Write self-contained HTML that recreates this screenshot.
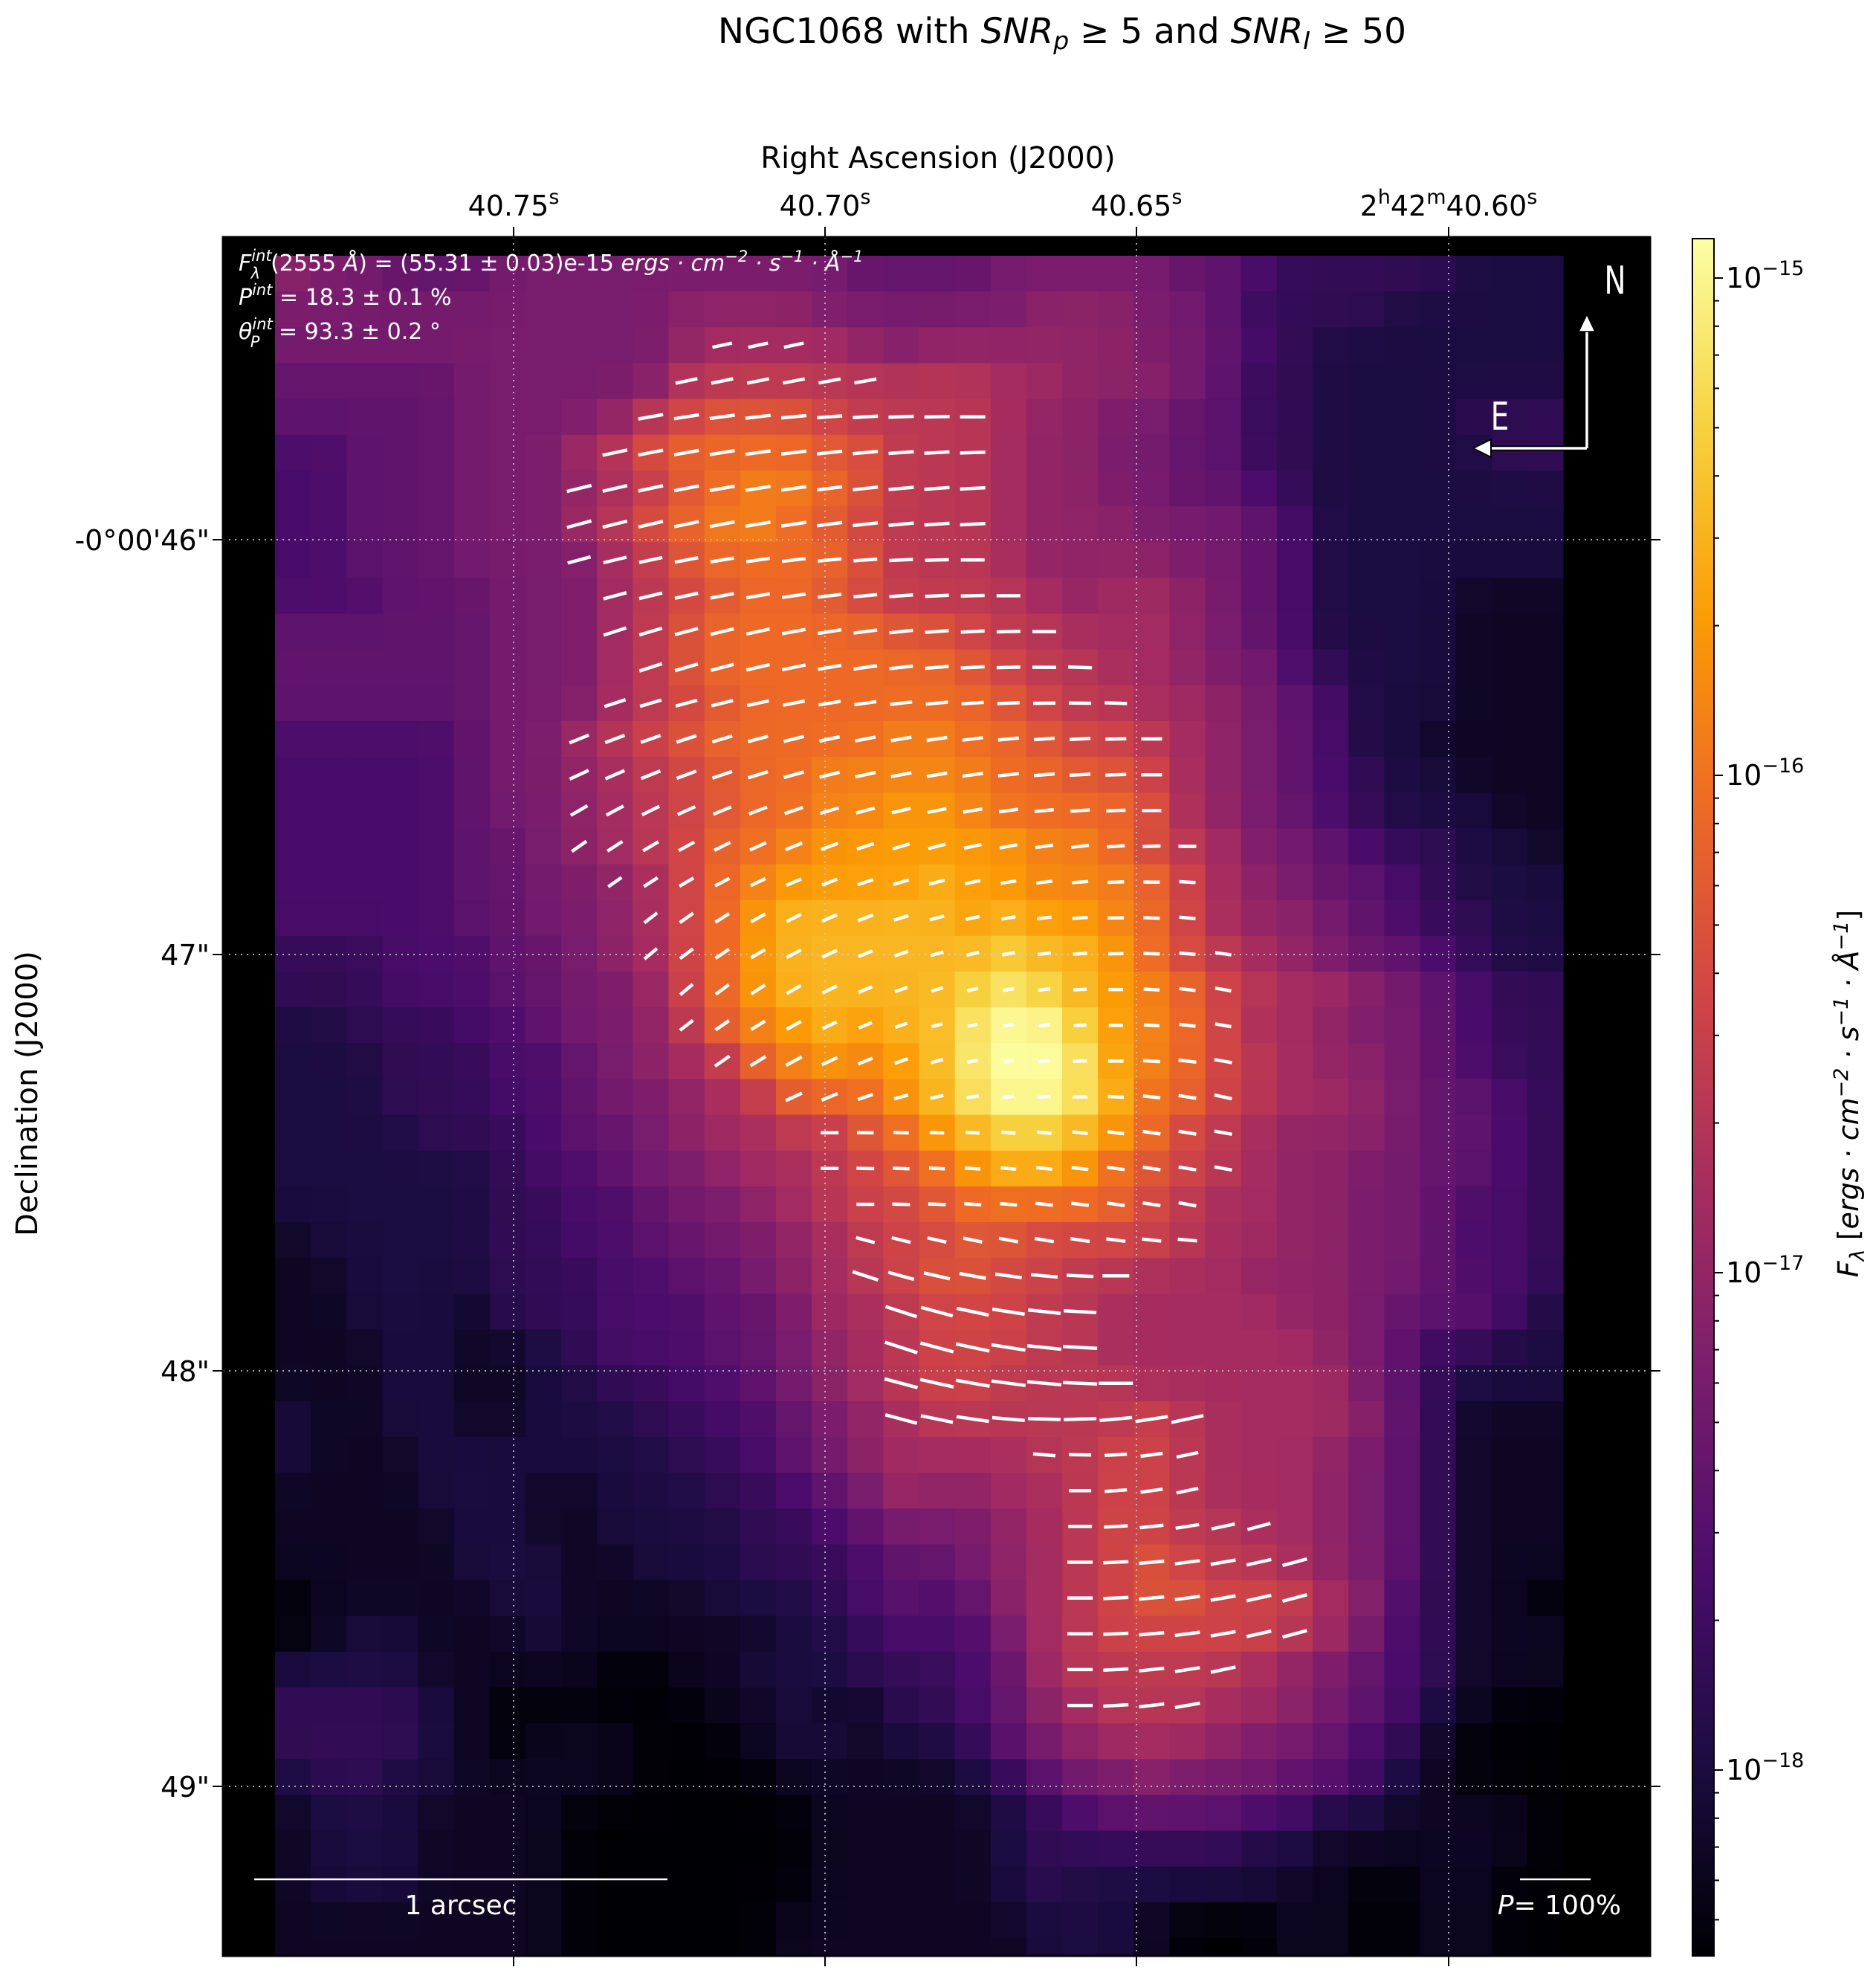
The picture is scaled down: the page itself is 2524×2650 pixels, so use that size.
<!DOCTYPE html>
<html><head><meta charset="utf-8">
<style>
html,body{margin:0;padding:0;background:#fff;}
svg{display:block;}
text{font-family:"DejaVu Sans","Liberation Sans",sans-serif;}
</style></head>
<body>
<svg id="s" width="2524" height="2650" viewBox="0 0 2524 2650" xmlns="http://www.w3.org/2000/svg">
<defs>
<linearGradient id="cb" x1="0" y1="1" x2="0" y2="0">
<stop offset="0" stop-color="#000004"/><stop offset="0.111" stop-color="#1b0c41"/><stop offset="0.222" stop-color="#4a0c6b"/><stop offset="0.333" stop-color="#781c6d"/><stop offset="0.444" stop-color="#a52c60"/><stop offset="0.556" stop-color="#cf4446"/><stop offset="0.667" stop-color="#ed6925"/><stop offset="0.778" stop-color="#fb9b06"/><stop offset="0.889" stop-color="#f7d13d"/><stop offset="1" stop-color="#fcffa4"/>
</linearGradient>
</defs>
<rect x="300" y="319" width="1920" height="2312" fill="#000"/>
<g id="cells"></g>
<g id="grid" stroke="#cfcfd8" stroke-width="2" stroke-dasharray="2,6" opacity="0.8">
<line x1="691" y1="319" x2="691" y2="2631"/><line x1="1110" y1="319" x2="1110" y2="2631"/><line x1="1529" y1="319" x2="1529" y2="2631"/><line x1="1949" y1="319" x2="1949" y2="2631"/>
<line x1="300" y1="726" x2="2220" y2="726"/><line x1="300" y1="1284" x2="2220" y2="1284"/><line x1="300" y1="1844" x2="2220" y2="1844"/><line x1="300" y1="2403" x2="2220" y2="2403"/>
</g>
<g id="vecs" stroke="#fff" stroke-width="4.5"></g>
<rect x="300" y="319" width="1920" height="2312" fill="none" stroke="#000" stroke-width="3"/>
<g stroke="#000" stroke-width="2">
<line x1="691" y1="319" x2="691" y2="305"/><line x1="1110" y1="319" x2="1110" y2="305"/><line x1="1529" y1="319" x2="1529" y2="305"/><line x1="1949" y1="319" x2="1949" y2="305"/>
<line x1="691" y1="2631" x2="691" y2="2645"/><line x1="1110" y1="2631" x2="1110" y2="2645"/><line x1="1529" y1="2631" x2="1529" y2="2645"/><line x1="1949" y1="2631" x2="1949" y2="2645"/>
<line x1="300" y1="726" x2="286" y2="726"/><line x1="300" y1="1284" x2="286" y2="1284"/><line x1="300" y1="1844" x2="286" y2="1844"/><line x1="300" y1="2403" x2="286" y2="2403"/>
<line x1="2220" y1="726" x2="2234" y2="726"/><line x1="2220" y1="1284" x2="2234" y2="1284"/><line x1="2220" y1="1844" x2="2234" y2="1844"/><line x1="2220" y1="2403" x2="2234" y2="2403"/>
</g>
<text x="1429" y="58" font-size="47" text-anchor="middle">NGC1068 with <tspan font-style="italic">SNR</tspan><tspan font-style="italic" font-size="33" dy="8">p</tspan><tspan dy="-8"> ≥ 5 and </tspan><tspan font-style="italic">SNR</tspan><tspan font-style="italic" font-size="33" dy="8">I</tspan><tspan dy="-8"> ≥ 50</tspan></text>
<text x="1262" y="226" font-size="40" text-anchor="middle">Right Ascension (J2000)</text>
<g font-size="38" text-anchor="middle">
<text x="691" y="290">40.75<tspan font-size="27" dy="-16">s</tspan></text>
<text x="1110" y="290">40.70<tspan font-size="27" dy="-16">s</tspan></text>
<text x="1529" y="290">40.65<tspan font-size="27" dy="-16">s</tspan></text>
<text x="1949" y="290">2<tspan font-size="27" dy="-16">h</tspan><tspan dy="16">42</tspan><tspan font-size="27" dy="-16">m</tspan><tspan dy="16">40.60</tspan><tspan font-size="27" dy="-16">s</tspan></text>
</g>
<g font-size="38" text-anchor="end">
<text x="282" y="740">-0°00'46"</text>
<text x="282" y="1298">47"</text>
<text x="282" y="1858">48"</text>
<text x="282" y="2417">49"</text>
</g>
<text transform="translate(50,1471) rotate(-90)" font-size="40" text-anchor="middle">Declination (J2000)</text>
<g fill="#fff" font-size="30">
<text x="321" y="364"><tspan font-style="italic">F</tspan><tspan font-style="italic" font-size="21" dy="-13">int</tspan><tspan font-style="italic" font-size="21" dx="-28" dy="24">λ</tspan><tspan dx="14" dy="-11">(2555 </tspan><tspan font-style="italic">Å</tspan>) = (55.31 ± 0.03)e-15 <tspan font-style="italic">ergs · cm</tspan><tspan font-style="italic" font-size="21" dy="-12">−2</tspan><tspan font-style="italic" dy="12"> · s</tspan><tspan font-style="italic" font-size="21" dy="-12">−1</tspan><tspan font-style="italic" dy="12"> · Å</tspan><tspan font-style="italic" font-size="21" dy="-12">−1</tspan></text>
<text x="321" y="410"><tspan font-style="italic">P</tspan><tspan font-style="italic" font-size="21" dy="-13">int</tspan><tspan dy="13"> = 18.3 ± 0.1 %</tspan></text>
<text x="321" y="456"><tspan font-style="italic">θ</tspan><tspan font-style="italic" font-size="21" dy="-13">int</tspan><tspan font-style="italic" font-size="21" dx="-30" dy="24">P</tspan><tspan dx="16" dy="-11"> = 93.3 ± 0.2 °</tspan></text>
</g>
<g stroke="#000" stroke-width="7" fill="none"><line x1="2135" y1="603" x2="2135" y2="440"/><line x1="2135" y1="603" x2="1998" y2="603"/></g>
<g stroke="#fff" stroke-width="3.5" fill="none"><line x1="2135" y1="603" x2="2135" y2="440"/><line x1="2135" y1="603" x2="1998" y2="603"/></g>
<polygon points="2135,423 2124,446 2146,446" fill="#fff" stroke="#000" stroke-width="1.5"/>
<polygon points="1982,603 2006,591 2006,615" fill="#fff" stroke="#000" stroke-width="2"/>
<text x="2173" y="395" font-size="52" fill="#fff" text-anchor="middle" transform="translate(2173,0) scale(0.75,1) translate(-2173,0)">N</text>
<text x="2018" y="578" font-size="52" fill="#fff" text-anchor="middle" transform="translate(2018,0) scale(0.75,1) translate(-2018,0)">E</text>
<line x1="342" y1="2528" x2="898" y2="2528" stroke="#fff" stroke-width="2.5"/>
<text x="620" y="2575" font-size="36" fill="#fff" text-anchor="middle">1 arcsec</text>
<line x1="2045" y1="2528" x2="2140" y2="2528" stroke="#fff" stroke-width="2.5"/>
<text x="2098" y="2575" font-size="36" fill="#fff" text-anchor="middle"><tspan font-style="italic">P</tspan>= 100%</text>
<rect x="2277" y="321" width="29" height="2310" fill="url(#cb)" stroke="#000" stroke-width="2"/>
<g id="cbt" stroke="#000" stroke-width="2"></g>
<g font-size="38">
<text x="2322" y="387">10<tspan font-size="27" dy="-17">−15</tspan></text>
<text x="2322" y="1056">10<tspan font-size="27" dy="-17">−16</tspan></text>
<text x="2322" y="1725">10<tspan font-size="27" dy="-17">−17</tspan></text>
<text x="2322" y="2394">10<tspan font-size="27" dy="-17">−18</tspan></text>
</g>
<text transform="translate(2500,1471) rotate(-90)" font-size="38" text-anchor="middle"><tspan font-style="italic">F</tspan><tspan font-style="italic" font-size="27" dy="8">λ</tspan><tspan dy="-8"> [</tspan><tspan font-style="italic">ergs · cm</tspan><tspan font-style="italic" font-size="27" dy="-14">−2</tspan><tspan font-style="italic" dy="14"> · s</tspan><tspan font-style="italic" font-size="27" dy="-14">−1</tspan><tspan font-style="italic" dy="14"> · Å</tspan><tspan font-style="italic" font-size="27" dy="-14">−1</tspan><tspan dy="14">]</tspan></text>
</svg>
<script>
(function(){
var A=[[0,0,4],[27,12,65],[74,12,107],[120,28,109],[165,44,96],[207,68,70],[237,105,37],[251,155,6],[247,209,61],[252,255,164]];
function col(t){t=Math.max(0,Math.min(1,t))*9;var i=Math.min(8,Math.floor(t)),f=t-i;var a=A[i],b=A[i+1];
return "rgb("+Math.round(a[0]+(b[0]-a[0])*f)+","+Math.round(a[1]+(b[1]-a[1])*f)+","+Math.round(a[2]+(b[2]-a[2])*f)+")";}
var S="0a1b2c3d4e5f6g7h8i9";
var R=[
"d 3 3 c c c 3 3 3 3 3 3 3 3 3 3 c c c c 3 3 3 3 3 c c 2 b b b b b 1 1 1",
"3 3 3 3 3 3 3 3 3 3 3 d d d d 3 3 3 3 3 3 d d d 3 3 c b b b b 1 1 1 1 1",
"3 3 3 3 3 3 3 3 3 3 3 d 4 4 4 4 d 3 d d d d d d 3 3 c 2 b 1 1 1 1 1 1 1",
"c c c c c 3 3 3 3 3 3 e e e e e e e e e 4 4 d d d 3 c b b 1 1 1 1 1 1 1",
"c c c c c 3 3 3 3 d e 5 f f f 5 e e e e 4 d d 3 3 c c b b 1 1 1 1 b b b",
"2 2 c c c 3 3 3 4 e f 6 6 6 6 f f e e e 4 d d 3 3 c c b b 1 1 1 1 1 b b",
"2 2 c c c 3 3 3 d 4 e f 6 g g 6 f e e e 4 d d 3 3 c c 2 b 1 1 1 1 1 1 1",
"2 2 c c c 3 3 3 4 e f 6 g g 6 f 5 e e e 4 d d d 3 3 3 c 2 1 1 1 1 1 1 1",
"2 2 c c c 3 3 3 3 4 e f 6 6 6 6 f e e e 4 d d d d 3 3 c 2 1 1 1 1 1 1 1",
"2 2 2 c c c 3 3 3 4 e 5 f 6 6 f 5 e e e e 4 d 4 4 d 3 c 2 1 1 1 1 a a a",
"c c c c c c 3 3 3 4 e f 6 6 6 6 6 f f 5 e e 4 4 4 d 3 c 2 1 1 1 1 a a a",
"c c c c c c 3 3 3 4 e f 6 6 6 6 6 6 6 f 5 e e 4 4 d 3 3 2 b 1 1 1 a a a",
"c c c c c c 3 3 3 4 e 5 f 6 6 6 6 6 6 6 f 5 e e 4 4 d 3 c 2 1 1 1 a a a",
"2 2 2 2 2 c 3 3 4 e 5 f 6 6 6 6 6 g g 6 6 f 5 5 e 4 d 3 c 2 1 1 a a a a",
"2 2 2 2 2 c 3 3 d 4 e 5 f 6 6 g g g g g 6 6 f f 5 4 d 3 c 2 b 1 1 a a a",
"2 2 2 2 2 c 3 3 d 4 e 5 f 6 6 g g 7 7 g 6 6 6 6 f 4 d 3 c 2 b 1 1 1 a a",
"2 2 2 2 2 c c 3 d 4 e 5 6 6 g 7 7 7 7 7 7 g g 6 5 e 4 3 3 c 2 b b 1 1 a",
"2 2 2 2 2 c c 3 3 d 4 5 6 g 7 7 7 7 h 7 7 g g g 6 5 4 d 3 c c 2 b 1 1 1",
"2 2 2 2 2 c c 3 3 d 4 5 6 7 h h h h h 7 h 7 7 g 6 5 4 d d 3 c 2 b b 1 1",
"b b b 2 2 2 c c 3 d 4 5 6 7 h h h h h h 8 h h 7 6 5 e 4 d 3 c c 2 b 1 1",
"b b b 2 2 2 c c 3 3 d 5 6 7 h h h h h 8 i 8 h 7 g 6 5 e 4 4 d 3 c 2 b b",
"1 1 b b b 2 2 c 3 3 d e 6 g 7 h 7 h h i 9 9 8 7 g 6 5 4 4 d 3 3 c 2 b b",
"1 1 1 b b b 2 2 c 3 d 4 e 6 g 7 g 7 h i 9 9 i 7 g 6 5 e 4 d d 3 c 2 b b",
"1 1 1 b b b 2 2 c 3 3 d 4 e 6 6 6 7 h i 9 9 i h 6 6 5 e 4 4 d 3 c c 2 b",
"1 1 1 1 b b b 2 c c 3 d 4 4 e e f 6 7 h 8 8 h 7 6 5 e 4 d d d 3 c c 2 b",
"1 1 1 1 1 1 b 2 2 c 3 3 d 4 4 e 5 f 6 7 h h 7 6 f 5 e 4 d d 3 3 c c 2 b",
"1 1 1 1 1 1 b b 2 2 c 3 3 d 4 e 5 5 f 6 6 6 6 6 5 e 4 4 d d 3 3 c 2 2 b",
"a 1 1 1 1 1 b b 2 2 c c 3 3 d 4 e 5 5 f f 5 5 5 5 e 4 4 d d 3 3 c 2 2 b",
"a a 1 1 1 1 b b b 2 2 c c 3 d 4 e 5 f f 5 5 e e 4 4 4 d d d 3 3 c 2 2 b",
"a a 1 1 1 a b b b 2 2 2 c c 3 4 4 e 5 5 5 e e 4 4 4 4 4 d d 3 c c c 2 1",
"a a a 1 1 a a 1 b 2 2 2 c c 3 d 4 e 5 5 5 e e 4 4 4 4 4 4 d 3 c b b 1 1",
"a a a 1 1 a a 1 1 b b 2 2 c 3 d 4 e 5 5 e e e e 4 4 4 4 4 4 3 c b 1 1 1",
"1 a a 1 1 a a 1 1 1 b b 2 2 c 3 d 4 e e e e e e 5 e 4 4 4 4 d c b a a a",
"1 a a a 1 1 1 1 1 1 1 b b 2 c 3 d 4 4 4 4 e e 5 5 e 4 4 4 d 3 c b a a a",
"a a a a 1 1 1 a a 1 1 1 b b 2 c 3 4 d d 4 4 e 5 5 e 4 4 4 d 3 c b a a a",
"a a a a a 1 1 a a 1 1 1 1 b b 2 c 3 3 3 d 4 e 5 5 e e 4 4 d 3 c b a a a",
"a a a a a 1 1 1 a a 1 1 1 b b b 2 c c 3 d 4 e 5 f 5 e e 4 d 3 c b a a a",
"0 a a a a a 1 1 a a a a 1 1 1 b 2 c 2 c d 4 e 5 f f 5 5 5 4 d 2 b a a 0",
"0 a 1 1 a a a 1 a a a a a a 1 1 b 2 2 2 3 4 e 5 5 5 5 5 e 4 3 2 b a a a",
"1 1 1 1 a a a a a 0 0 a a 1 1 1 b b b 2 c 4 e e e e e 4 d 3 c 2 b a a a",
"b b b b 1 a 0 0 0 0 0 0 a a 1 a a b b 2 c d 4 e e e 4 4 d 3 c 2 1 a 0 0",
"b b b b 1 a 0 a a a 0 0 0 a 1 1 a 1 1 b c 3 d 4 4 4 d 3 3 c 2 b a 0 0 0",
"1 b b 1 1 a a a a a 0 0 0 0 a a a a a 1 b c 3 3 d 3 3 3 c c 2 1 a 0 0 0",
"a 1 1 1 a a a a 0 0 0 0 0 0 0 a a a a a 1 b 2 c c c c 2 2 1 1 a a a a 0",
"a 1 1 1 a a a a 0 0 0 0 0 0 0 a a a a a 1 b b b b b b 1 1 a a a a a a 0",
"a 1 1 1 a a a a 0 0 0 0 0 0 0 a a a a a 1 b 1 1 1 1 1 1 a a 0 0 a a 0 0",
"a a a a a a a a 0 0 0 0 0 0 a a a a a a a 1 1 1 a 0 0 0 a a 0 0 a a 0 0",
"a a a a a a a a 0 0 0 0 0 0 a a a a a a a 1 1 1 a 0 0 0 a a 0 0 a a 0 0"];
var X0=370,Y0=344,CW=(2103-370)/36,CH=48.15,NR=R.length;
var G=[];
for(var r=0;r<NR;r++){var tk=R[r].split(" ");G.push([]);for(var c=0;c<36;c++){G[r].push(S.indexOf(tk[c]||"1")/18);}}
function gv(r,c){r=Math.max(0,Math.min(NR-1,r));c=Math.max(0,Math.min(35,c));return G[r][c];}
var g=document.getElementById("cells"),h="";
for(var r=0;r<NR;r++){for(var c=0;c<36;c++){
 var t=0.5*gv(r,c)+0.1*(gv(r-1,c)+gv(r+1,c)+gv(r,c-1)+gv(r,c+1))+0.025*(gv(r-1,c-1)+gv(r-1,c+1)+gv(r+1,c-1)+gv(r+1,c+1));
 var y=Y0+r*CH,hh=CH+0.6;if(y+hh>2631)hh=2631-y;if(hh<=0)continue;
 h+='<rect x="'+(X0+c*CW).toFixed(2)+'" y="'+y.toFixed(2)+'" width="'+(CW+0.6).toFixed(2)+'" height="'+hh.toFixed(2)+'" fill="'+col(t)+'"/>';}}
g.innerHTML=h;
var V=[[2,12,14,12,12,27],[3,11,16,12,10,30],[4,10,19,10,0,34],[5,9,19,12,2,34],[6,8,19,14,3,34],[7,8,19,15,3,34],
[8,8,19,15,0,32],[9,9,20,15,0,32],[10,9,21,18,0,32],[11,10,22,18,-2,32],[12,9,23,18,-2,30],[13,8,24,22,0,28],
[14,8,24,25,0,28],[15,8,24,30,0,26],[16,8,25,35,0,24],[17,9,25,35,-3,22],[18,10,25,38,-5,22],[19,10,26,40,-8,22],
[20,11,26,40,-10,22],[21,11,26,38,-10,22],[22,12,26,35,-10,24],[23,14,26,25,-12,24],[24,15,26,0,-10,24],[25,15,26,0,-10,24],
[26,16,25,0,-10,24],[27,16,25,-15,-5,26],[28,16,23,-18,0,36],[29,17,22,-18,-3,44],[30,17,22,-18,-3,46],[31,17,23,-15,0,46],
[32,17,25,-15,12,44],[33,21,25,-5,12,30],[34,22,25,0,12,30],[35,22,27,0,15,32],[36,22,28,0,15,34],[37,22,28,0,15,34],
[38,22,28,0,15,34],[39,22,26,0,12,34],[40,22,25,0,10,34]];
var vh="";
for(var i=0;i<V.length;i++){var v=V[i];for(var c=v[1];c<=v[2];c++){
 var f=v[2]>v[1]?(c-v[1])/(v[2]-v[1]):0;var a=(v[3]+(v[4]-v[3])*f)*Math.PI/180;
 var L=v[5];var d=Math.sqrt(Math.pow(c-19.5,2)+Math.pow(v[0]-21.5,2));if(d<5)L*=0.55+0.09*d;
 var cx=X0+(c+0.5)*CW,cy=Y0+(v[0]+0.5)*CH;var dx=Math.cos(a)*L/2,dy=Math.sin(a)*L/2;
 vh+='<line x1="'+(cx-dx).toFixed(1)+'" y1="'+(cy+dy).toFixed(1)+'" x2="'+(cx+dx).toFixed(1)+'" y2="'+(cy-dy).toFixed(1)+'"/>';}}
document.getElementById("vecs").innerHTML=vh;
var ct="",dec=669,top=374;
for(var k=0;k<4;k++){var y=top+k*dec;ct+='<line x1="2306" y1="'+y+'" x2="2318" y2="'+y+'"/>';}
for(var k=-1;k<4;k++){for(var m=2;m<10;m++){var y=top+k*dec+dec*(1-Math.log10(m));if(y>321&&y<2631)ct+='<line x1="2306" y1="'+y.toFixed(1)+'" x2="2313" y2="'+y.toFixed(1)+'"/>';}}
document.getElementById("cbt").innerHTML=ct;
})();
</script>
</body></html>
